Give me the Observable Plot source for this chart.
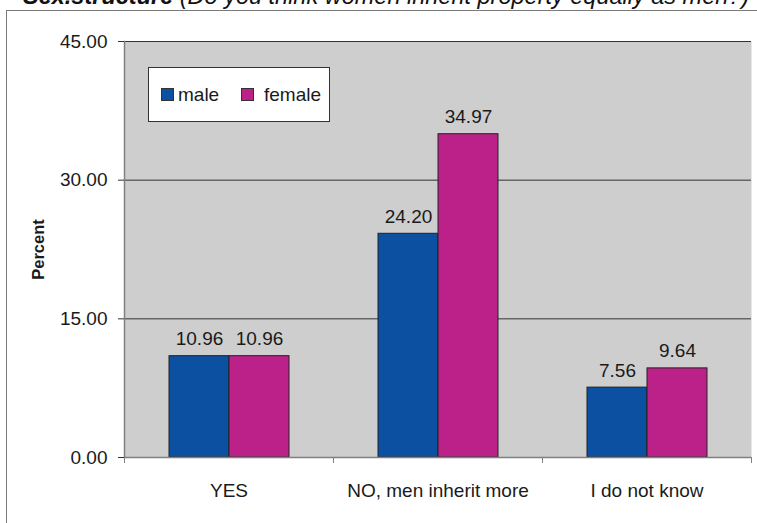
<!DOCTYPE html>
<html>
<head>
<meta charset="utf-8">
<script src="https://cdn.jsdelivr.net/npm/d3@7"></script>
<script src="https://cdn.jsdelivr.net/npm/@observablehq/plot@0.6"></script>
<style>
  body { margin: 0; background: #ffffff; }
  #wrap {
    position: relative; width: 757px; height: 523px; overflow: hidden;
    font-family: "Liberation Sans", Arial, sans-serif; color: #1a1a1a; background: #ffffff;
  }
  #chart svg { position: absolute; left: 0; top: 0; }
  #chart g[aria-label="y-axis label"] text { font-weight: bold; font-size: 16.5px; }
  #outline {
    position: absolute; left: 6px; top: 10px; width: 900px; height: 700px;
    border: 1.5px solid #7a7a7a; pointer-events: none;
  }
  #title {
    position: absolute; left: 23px; top: -15px; white-space: nowrap;
    font-size: 23.5px; line-height: 23px; font-style: italic; color: #111;
  }
  #legend {
    position: absolute; left: 148px; top: 67px; width: 180px; height: 53px;
    background: #ffffff; border: 1px solid #333;
  }
  #legend .sw { position: absolute; top: 20px; width: 11px; height: 11px; border: 1px solid #333; }
  #legend .lab { position: absolute; top: 17px; font-size: 19px; line-height: 19px; white-space: nowrap; }
</style>
</head>
<body>
<div id="wrap">
  <div id="chart"></div>
  <div id="legend"></div>
  <div id="outline"></div>
  <div id="title"><b>Sex.structure</b> (Do you think women inherit property equally as men?)</div>
</div>
<script>
// Answers and the share of respondents (percent) by sex
const categories = ["YES", "NO, men inherit more", "I do not know"];
const sexes = ["male", "female"];
const maleValues = [10.96, 24.20, 7.56];
const femaleValues = [10.96, 34.97, 9.64];
const yTicks = [0, 15, 30, 45];
const sexColors = ["#0b50a1", "#bb2189"];

const W = 757, H = 523;
const M = {top: 41, right: 6, bottom: 66, left: 124};

const rows = categories.flatMap((c, i) => [
  {category: c, sex: sexes[0], value: maleValues[i]},
  {category: c, sex: sexes[1], value: femaleValues[i]}
]);

// category boundaries sit half a band away from each band centre
const halfBand = (W - M.left - M.right) / categories.length / 2;

const chart = Plot.plot({
  width: W, height: H,
  marginTop: M.top, marginRight: M.right, marginBottom: M.bottom, marginLeft: M.left,
  style: {fontFamily: '"Liberation Sans", Arial, sans-serif', fontSize: "19px", color: "#1a1a1a", background: "transparent"},
  fx: {domain: categories, padding: 0, label: null},
  x: {domain: sexes, paddingInner: 0, paddingOuter: 0.727, axis: null},
  y: {domain: [0, 45], label: "Percent"},
  color: {domain: sexes, range: sexColors},
  marks: [
    Plot.frame({fill: "#cecece", stroke: null, facet: "super"}),
    Plot.gridY(yTicks.slice(1), {stroke: "#333", strokeOpacity: 1, strokeWidth: 1}),
    Plot.barY(rows, {fx: "category", x: "sex", y: "value", fill: "sex", stroke: "#222", strokeWidth: 1}),
    Plot.text(rows, {fx: "category", x: "sex", y: "value", text: d => d.value.toFixed(2),
      lineAnchor: "bottom", dy: -11, fontSize: 19, fill: "#1a1a1a"}),
    Plot.ruleY([0], {stroke: "#808080", strokeWidth: 1.5}),
    Plot.frame({anchor: "left", facet: "super", stroke: "#808080", strokeWidth: 1.5}),
    Plot.axisY({ticks: yTicks, tickFormat: d => d.toFixed(2), tickSize: 6, tickPadding: 11,
      stroke: "#333", label: "Percent", labelAnchor: "center", labelOffset: 92, labelArrow: "none"}),
    Plot.axisFx({anchor: "bottom", tickSize: 0, tickPadding: 26, label: null}),
    Plot.axisFx({anchor: "bottom", tickSize: 6, fill: "none", dx: -halfBand, stroke: "#808080", label: null}),
    Plot.axisFx({anchor: "bottom", tickSize: 6, fill: "none", dx: halfBand, stroke: "#808080", label: null})
  ]
});
document.getElementById("chart").append(chart);

// legend box drawn with the same colour scale
const color = chart.scale("color");
const legend = d3.select("#legend");
const swatchLeft = [12, 92], labelLeft = [29, 115];
color.domain.forEach((s, i) => {
  legend.append("div").attr("class", "sw")
    .style("left", swatchLeft[i] + "px").style("background", color.range[i]);
  legend.append("div").attr("class", "lab")
    .style("left", labelLeft[i] + "px").text(s);
});
</script>
</body>
</html>
